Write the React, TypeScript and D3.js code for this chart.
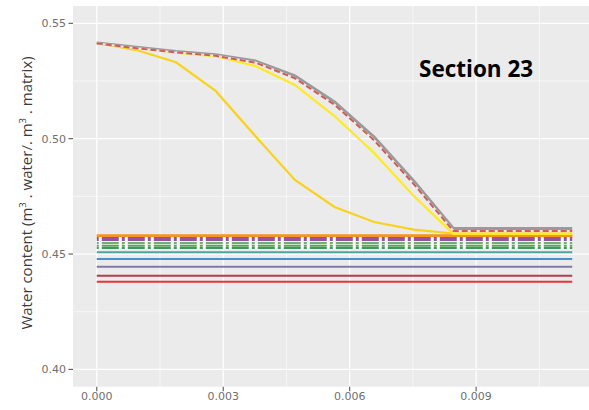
import React from "react";
import * as d3 from "d3";

// x positions (m) of the simulated profile
const depth = [0, 0.00094, 0.00188, 0.00282, 0.00376, 0.0047, 0.00564, 0.00658, 0.00752, 0.00846, 0.0094, 0.01034, 0.01128];

// curved series (water content)
const grayCurve = [0.5415, 0.5396, 0.5378, 0.5364, 0.5337, 0.5272, 0.5159, 0.5007, 0.4817, 0.4611, 0.4611, 0.4611, 0.4611];
const redDashCurve = [0.5413, 0.5392, 0.5374, 0.5359, 0.533, 0.5262, 0.5147, 0.4993, 0.4803, 0.46, 0.46, 0.46, 0.46];
const yellowCurve = [0.5415, 0.5395, 0.5373, 0.5357, 0.5315, 0.5233, 0.5098, 0.4938, 0.4752, 0.4587, 0.4587, 0.4587, 0.4587];
const goldCurve = [0.5415, 0.5384, 0.5331, 0.5207, 0.5012, 0.4821, 0.4704, 0.4639, 0.4606, 0.4589, 0.4589, 0.4589, 0.4589];

// flat series (constant water content)
const flatNames = ["orange", "purple1", "purple2", "green1", "green2", "green3", "teal", "blue", "slate", "darkred", "red"];
const flatValues = [0.4579, 0.457, 0.4561, 0.4548, 0.4536, 0.4526, 0.4508, 0.4479, 0.4445, 0.4406, 0.438];
const flatColors = ["#F7941D", "#9E4F9E", "#8C5A9C", "#6BB36B", "#4FA852", "#3E9A5A", "#4BA69F", "#4A8FC6", "#8079A8", "#B23E4E", "#EC3237"];
const flatDashed = [false, true, true, true, true, true, false, false, false, false, false];

const xTicks = [0, 0.003, 0.006, 0.009];
const xTickLabels = ["0.000", "0.003", "0.006", "0.009"];
const xMinor = [0.0015, 0.0045, 0.0075, 0.0105];
const yTicks = [0.4, 0.45, 0.5, 0.55];
const yTickLabels = ["0.40", "0.45", "0.50", "0.55"];
const yMinor = [0.425, 0.475, 0.525];

export default function App() {
  const left = 73, right = 596, top = 6, bottom = 386.7;
  const x = d3.scaleLinear().domain([-0.000564, 0.011844]).range([left, right]);
  const y = d3.scaleLinear().domain([0.3925, 0.5575]).range([bottom, top]);
  const line = d3.line<[number, number]>().x((d) => x(d[0])).y((d) => y(d[1]));
  const path = (vals: number[]) => line(depth.map((d, i) => [d, vals[i]] as [number, number])) || "";
  const flatPath = (v: number) => line([[depth[0], v], [depth[depth.length - 1], v]]) || "";

  return (
    <div style={{ position: "absolute", left: 0, top: 0 }}>
      <svg width={589} height={410} style={{ display: "block" }}>
        <rect x={0} y={0} width={589} height={410} fill="#ffffff" />
        <rect x={left} y={top} width={right - left} height={bottom - top} fill="#EBEBEB" />
        {xMinor.map((t) => (
          <line key={"xm" + t} x1={x(t)} x2={x(t)} y1={top} y2={bottom} stroke="#fff" strokeWidth={0.6} />
        ))}
        {yMinor.map((t) => (
          <line key={"ym" + t} x1={left} x2={right} y1={y(t)} y2={y(t)} stroke="#fff" strokeWidth={0.6} />
        ))}
        {xTicks.map((t) => (
          <line key={"xg" + t} x1={x(t)} x2={x(t)} y1={top} y2={bottom} stroke="#fff" strokeWidth={1.2} />
        ))}
        {yTicks.map((t) => (
          <line key={"yg" + t} x1={left} x2={right} y1={y(t)} y2={y(t)} stroke="#fff" strokeWidth={1.2} />
        ))}

        {/* flat lines, solid ones first */}
        {flatValues.map((v, i) =>
          flatDashed[i] ? null : (
            <path key={"f" + flatNames[i]} d={flatPath(v)} fill="none" stroke={flatColors[i]} strokeWidth={i === 0 ? 2.6 : 2} />
          )
        )}
        {/* white underlay for dashed lines */}
        {flatValues.map((v, i) =>
          flatDashed[i] ? (
            <path key={"w" + flatNames[i]} d={flatPath(v)} fill="none" stroke="#ffffff" strokeWidth={2.4} />
          ) : null
        )}
        {flatValues.map((v, i) =>
          flatDashed[i] ? (
            <path key={"d" + flatNames[i]} d={flatPath(v)} fill="none" stroke={flatColors[i]} strokeWidth={2}
              strokeDasharray="17,3,3,3" strokeDashoffset={21} />
          ) : null
        )}
        <path d={flatPath(flatValues[0])} fill="none" stroke={flatColors[0]} strokeWidth={2.4} />

        {/* curves */}
        <path d={path(goldCurve)} fill="none" stroke="#F9D21C" strokeWidth={2.2} />
        <path d={path(yellowCurve)} fill="none" stroke="#FFEA1F" strokeWidth={2.2} />
        <path d={path(grayCurve)} fill="none" stroke="#9A9A9A" strokeWidth={3} />
        <path d={path(redDashCurve)} fill="none" stroke="#F6E6E2" strokeWidth={2} />
        <path d={path(redDashCurve)} fill="none" stroke="#C8605A" strokeWidth={2} strokeDasharray="6,3" />

        {/* y axis */}
        {yTicks.map((t, i) => (
          <g key={"yt" + t}>
            <line x1={left - 4.5} x2={left} y1={y(t)} y2={y(t)} stroke="#555" strokeWidth={1.1} />
            <text x={left - 7} y={y(t)} dy="0.35em" textAnchor="end" fontFamily="DejaVu Sans" fontSize={11} fill="#6f6f6f">
              {yTickLabels[i]}
            </text>
          </g>
        ))}
        {xTicks.map((t, i) => (
          <g key={"xt" + t}>
            <line x1={x(t)} x2={x(t)} y1={bottom} y2={bottom + 4.5} stroke="#555" strokeWidth={1.1} />
            <text x={x(t)} y={400} textAnchor="middle" fontFamily="DejaVu Sans" fontSize={11} fill="#6f6f6f">
              {xTickLabels[i]}
            </text>
          </g>
        ))}

        <text transform="translate(32,193) rotate(-90)" textAnchor="middle" fontFamily="Open Sans" fontSize={15} fill="#3a3a3a">
          Water content (m<tspan fontSize={9.5} dy={-6}>3</tspan><tspan dy={6}> . water/. m</tspan><tspan fontSize={9.5} dy={-6}>3</tspan><tspan dy={6}> . matrix)</tspan>
        </text>

        <text x={419} y={77} fontFamily="Open Sans" fontWeight="bold" fontSize={22.5} fill="#000">
          Section 23
        </text>
      </svg>
    </div>
  );
}
